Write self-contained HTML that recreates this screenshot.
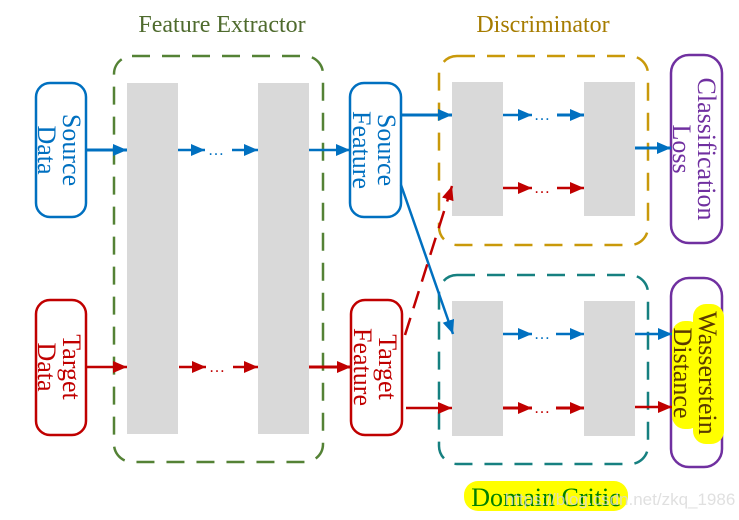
<!DOCTYPE html>
<html><head><meta charset="utf-8"><style>
html,body{margin:0;padding:0;background:#fff;}
svg{display:block;}
text{font-family:"Liberation Serif",serif;}
</style></head><body>
<svg width="739" height="520" viewBox="0 0 739 520" xmlns="http://www.w3.org/2000/svg">
<defs>
<marker id="AB" viewBox="0 0 10 10" refX="10" refY="5" markerWidth="14" markerHeight="12" orient="auto" markerUnits="userSpaceOnUse" preserveAspectRatio="none"><path d="M0,0 L10,5 L0,10 z" fill="#0070c0"/></marker>
<marker id="AR" viewBox="0 0 10 10" refX="10" refY="5" markerWidth="14" markerHeight="12" orient="auto" markerUnits="userSpaceOnUse" preserveAspectRatio="none"><path d="M0,0 L10,5 L0,10 z" fill="#c00000"/></marker>
</defs>

<text x="222" y="32" font-size="24" fill="#4f6b2e" text-anchor="middle">Feature Extractor</text>
<text x="543" y="32" font-size="24" fill="#a67c00" text-anchor="middle">Discriminator</text>

<rect x="127" y="83" width="51" height="351" fill="#d9d9d9"/>
<rect x="258" y="83" width="51" height="351" fill="#d9d9d9"/>
<rect x="452" y="82" width="51" height="134" fill="#d9d9d9"/>
<rect x="584" y="82" width="51" height="134" fill="#d9d9d9"/>
<rect x="452" y="301" width="51" height="135" fill="#d9d9d9"/>
<rect x="584" y="301" width="51" height="135" fill="#d9d9d9"/>

<rect x="114" y="56" width="209" height="406" rx="18" fill="none" stroke="#548235" stroke-width="2.5" stroke-dasharray="18,12"/>
<rect x="439" y="56" width="209" height="189" rx="18" fill="none" stroke="#c9990a" stroke-width="2.5" stroke-dasharray="18,12"/>
<rect x="439" y="275" width="209" height="189" rx="18" fill="none" stroke="#168080" stroke-width="2.5" stroke-dasharray="18,12"/>

<rect x="36" y="83" width="50" height="134" rx="14" fill="#fff" stroke="#0070c0" stroke-width="2.5"/>
<text transform="translate(60,150) rotate(90)" font-size="26" fill="#0070c0" text-anchor="middle"><tspan x="0" y="-3">Source</tspan><tspan x="0" y="22">Data</tspan></text>
<rect x="36" y="300" width="50" height="135" rx="14" fill="#fff" stroke="#c00000" stroke-width="2.5"/>
<text transform="translate(60,367) rotate(90)" font-size="26" fill="#c00000" text-anchor="middle"><tspan x="0" y="-3">Target</tspan><tspan x="0" y="22">Data</tspan></text>

<rect x="350" y="83" width="51" height="134" rx="14" fill="#fff" stroke="#0070c0" stroke-width="2.5"/>
<text transform="translate(375,150) rotate(90)" font-size="26" fill="#0070c0" text-anchor="middle"><tspan x="0" y="-3">Source</tspan><tspan x="0" y="22">Feature</tspan></text>
<rect x="351" y="300" width="51" height="135" rx="14" fill="#fff" stroke="#c00000" stroke-width="2.5"/>
<text transform="translate(376,367) rotate(90)" font-size="26" fill="#c00000" text-anchor="middle"><tspan x="0" y="-3">Target</tspan><tspan x="0" y="22">Feature</tspan></text>

<rect x="671" y="55" width="51" height="188" rx="18" fill="#fff" stroke="#7030a0" stroke-width="2.5"/>
<text transform="translate(695,149) rotate(90)" font-size="26" fill="#7030a0" text-anchor="middle"><tspan x="0" y="-3">Classification</tspan><tspan x="0" y="22">Loss</tspan></text>
<rect x="671" y="278" width="51" height="189" rx="18" fill="#fff" stroke="#7030a0" stroke-width="2.5"/>
<rect x="693" y="304" width="31" height="140" rx="13" fill="#ffff00"/>
<rect x="672" y="321" width="29" height="108" rx="13" fill="#ffff00"/>
<text transform="translate(696,373) rotate(90)" font-size="26" fill="#5a3a00" text-anchor="middle"><tspan x="0" y="-3">Wasserstein</tspan><tspan x="0" y="22">Distance</tspan></text>

<line x1="86" y1="150" x2="127" y2="150" stroke="#0070c0" stroke-width="3" marker-end="url(#AB)"/>
<line x1="178" y1="150" x2="205" y2="150" stroke="#0070c0" stroke-width="2.5" marker-end="url(#AB)"/>
<text x="216" y="155" font-size="16" fill="#0070c0" text-anchor="middle">…</text>
<line x1="232" y1="150" x2="258" y2="150" stroke="#0070c0" stroke-width="2.5" marker-end="url(#AB)"/>
<line x1="309" y1="150" x2="350" y2="150" stroke="#0070c0" stroke-width="2.5" marker-end="url(#AB)"/>

<line x1="86" y1="367" x2="127" y2="367" stroke="#c00000" stroke-width="2.5" marker-end="url(#AR)"/>
<line x1="179" y1="367" x2="206" y2="367" stroke="#c00000" stroke-width="2.5" marker-end="url(#AR)"/>
<text x="217" y="372" font-size="16" fill="#c00000" text-anchor="middle">…</text>
<line x1="233" y1="367" x2="258" y2="367" stroke="#c00000" stroke-width="2.5" marker-end="url(#AR)"/>
<line x1="309" y1="367" x2="351" y2="367" stroke="#c00000" stroke-width="3" marker-end="url(#AR)"/>

<line x1="401" y1="115" x2="452" y2="115" stroke="#0070c0" stroke-width="3" marker-end="url(#AB)"/>
<line x1="503" y1="115" x2="532" y2="115" stroke="#0070c0" stroke-width="2.5" marker-end="url(#AB)"/>
<text x="542" y="120" font-size="16" fill="#0070c0" text-anchor="middle">…</text>
<line x1="557" y1="115" x2="584" y2="115" stroke="#0070c0" stroke-width="3" marker-end="url(#AB)"/>
<line x1="503" y1="188" x2="532" y2="188" stroke="#c00000" stroke-width="2.5" marker-end="url(#AR)"/>
<text x="542" y="193" font-size="16" fill="#c00000" text-anchor="middle">…</text>
<line x1="557" y1="188" x2="584" y2="188" stroke="#c00000" stroke-width="2.5" marker-end="url(#AR)"/>
<line x1="635" y1="148" x2="671" y2="148" stroke="#0070c0" stroke-width="3" marker-end="url(#AB)"/>

<line x1="503" y1="334" x2="532" y2="334" stroke="#0070c0" stroke-width="2.5" marker-end="url(#AB)"/>
<text x="542" y="339" font-size="16" fill="#0070c0" text-anchor="middle">…</text>
<line x1="556" y1="334" x2="584" y2="334" stroke="#0070c0" stroke-width="2.5" marker-end="url(#AB)"/>
<line x1="503" y1="408" x2="532" y2="408" stroke="#c00000" stroke-width="3" marker-end="url(#AR)"/>
<text x="542" y="413" font-size="16" fill="#c00000" text-anchor="middle">…</text>
<line x1="556" y1="408" x2="584" y2="408" stroke="#c00000" stroke-width="3" marker-end="url(#AR)"/>
<line x1="635" y1="334" x2="672" y2="334" stroke="#0070c0" stroke-width="2.5" marker-end="url(#AB)"/>
<line x1="635" y1="407" x2="672" y2="407" stroke="#c00000" stroke-width="2.5" marker-end="url(#AR)"/>
<line x1="406" y1="408" x2="452" y2="408" stroke="#c00000" stroke-width="2.5" marker-end="url(#AR)"/>

<line x1="401" y1="185" x2="453" y2="334" stroke="#0070c0" stroke-width="2.5" marker-end="url(#AB)"/>
<line x1="405" y1="335" x2="452" y2="186" stroke="#c00000" stroke-width="2.5" stroke-dasharray="18,10" marker-end="url(#AR)"/>

<rect x="464" y="481" width="164" height="30" rx="14" fill="#ffff00"/>
<text x="546" y="506" font-size="26" fill="#008000" text-anchor="middle">Domain Critic</text>
<text x="620" y="505" font-size="17" fill="#d8d8d8" fill-opacity="0.8" text-anchor="middle" style="font-family:'Liberation Sans',sans-serif">https://blog.csdn.net/zkq_1986</text>
</svg>
</body></html>
